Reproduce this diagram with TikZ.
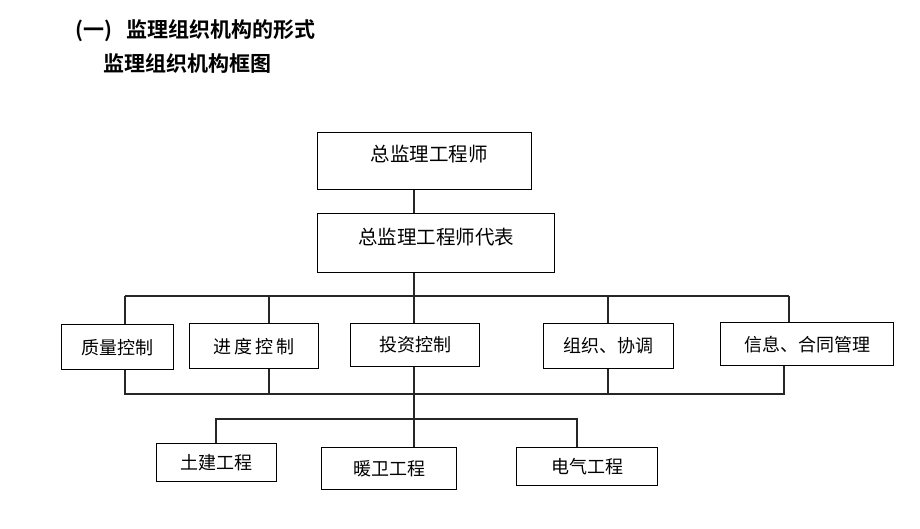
\documentclass[tikz,border=0pt]{standalone}
\usepackage{fontspec}
\newfontfamily\cjk{Noto Sans CJK SC}
\newfontfamily\cjkb{Noto Sans CJK SC Bold}
\begin{document}
\begin{tikzpicture}[x=1pt,y=-1pt,
  box/.style={draw=black,line width=1.3pt,inner sep=0pt,anchor=north west},
  lbl/.style={font=\cjk\fontsize{18}{18}\selectfont,inner sep=0pt},
  lblb/.style={font=\cjk\fontsize{19.5}{19.5}\selectfont,inner sep=0pt},
  ttl/.style={font=\cjkb\fontsize{21}{21}\selectfont,inner sep=0pt,anchor=west},
  conn/.style={draw=black!85,line width=1.3pt}]
\useasboundingbox (0,0) rectangle (920,528);
% titles
\node[ttl] (t1) at (75,31) {(一)\hspace{14pt}监理组织机构的形式};
\node[ttl] (t2) at (103,63) {监理组织机构框图};
% top boxes
\node[box,minimum width=214pt,minimum height=57pt] (b1) at (317,132) {};
\node[lblb] (b1t) at (429,154) {总监理工程师};
\node[box,minimum width=237pt,minimum height=59pt] (b2) at (317,213) {};
\node[lblb] (b2t) at (436,237) {总监理工程师代表};
% second row
\node[box,minimum width=112pt,minimum height=45pt] (q) at (61,324) {};
\node[lbl] at (q.center) (qt) {质量控制};
\node[box,minimum width=129pt,minimum height=45pt] (j) at (189,323) {};
\node[lbl] at (j.center) (jt) {进\,度\,控\,制};
\node[box,minimum width=129pt,minimum height=43pt] (t) at (350,323) {};
\node[lbl] at (t.center) (tt) {投资控制};
\node[box,minimum width=130pt,minimum height=45pt] (z) at (543,323) {};
\node[lbl] at (z.center) (zt) {组织、协调};
\node[box,minimum width=173pt,minimum height=43pt] (x) at (720,322) {};
\node[lbl] at (x.center) (xt) {信息、合同管理};
% third row
\node[box,minimum width=120pt,minimum height=38pt] (tj) at (156,443) {};
\node[lbl] at (tj.center) (tjt) {土建工程};
\node[box,minimum width=135pt,minimum height=42pt] (nw) at (321,447) {};
\node[lbl] at (nw.center) (nwt) {暖卫工程};
\node[box,minimum width=141pt,minimum height=38pt] (dq) at (516,447) {};
\node[lbl] at (dq.center) (dqt) {电气工程};
% junction coordinates
\coordinate (s) at (414,296);
\coordinate (u1) at (125,296);
\coordinate (u2) at (269,296);
\coordinate (u4) at (608,296);
\coordinate (u5) at (789,296);
\coordinate (s2) at (414,394);
\coordinate (l1) at (125,394);
\coordinate (l2) at (269,394);
\coordinate (l4) at (608,394);
\coordinate (l5) at (784,394);
\coordinate (s3) at (414,419);
\coordinate (m1) at (216,419);
\coordinate (m2) at (577,419);
% connectors
\draw[conn] (b1.south -| s) -- (b2.north -| s);
\draw[conn] (b2.south -| s) -- (t.north -| s);
\draw[conn] (u1) -- (u5);
\draw[conn] (u1) -- (q.north -| u1);
\draw[conn] (u2) -- (j.north -| u2);
\draw[conn] (u4) -- (z.north -| u4);
\draw[conn] (u5) -- (x.north -| u5);
\draw[conn] (q.south -| l1) -- (l1) -- (l5) -- (x.south -| l5);
\draw[conn] (j.south -| l2) -- (l2);
\draw[conn] (z.south -| l4) -- (l4);
\draw[conn] (t.south -| s2) -- (nw.north -| s2);
\draw[conn] (tj.north -| m1) -- (m1) -- (m2) -- (dq.north -| m2);
\end{tikzpicture}
\end{document}
